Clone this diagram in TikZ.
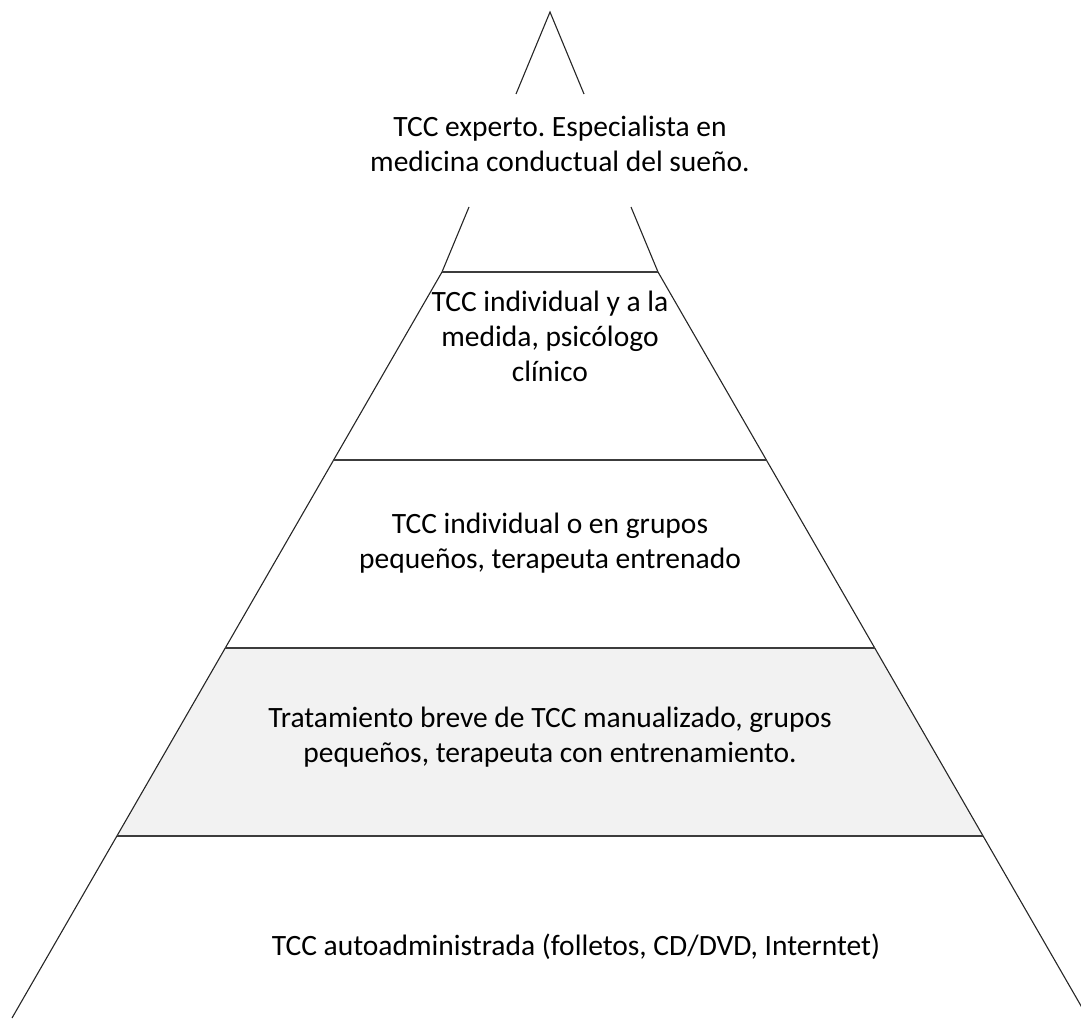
\documentclass[tikz,border=0pt]{standalone}
\usepackage{fontspec}
\setmainfont{Carlito}
\definecolor{bandgray}{HTML}{F2F2F2}
\definecolor{edge}{HTML}{262626}
\begin{document}
\begin{tikzpicture}[x=1pt,y=-1pt,
  side/.style={draw=edge,line width=1.1pt},
  tier/.style={draw=edge!90!white,line width=2.3pt},
  label/.style={align=center,font=\fontsize{29.5}{35}\selectfont\frenchspacing,inner sep=0pt,text=black}]
\useasboundingbox (0,0) rectangle (1081,1019);
\clip (0,0) rectangle (1081,1019);
% coordinates
\coordinate (apex) at (550,12);
\coordinate (tl1) at (516,94);
\coordinate (tr1) at (584,94);
\coordinate (tl2) at (469,207);
\coordinate (tr2) at (631,207);
\coordinate (l1) at (442,272);
\coordinate (r1) at (658,272);
\coordinate (l2) at (333,460);
\coordinate (r2) at (767,460);
\coordinate (l3) at (225,648);
\coordinate (r3) at (875,648);
\coordinate (l4) at (117,836);
\coordinate (r4) at (983,836);
\coordinate (l5) at (12,1018);
\coordinate (r5) at (1088,1018);
% gray band
\fill[bandgray] (l3) -- (r3) -- (r4) -- (l4) -- cycle;
% sides
\draw[side] (tl1) -- (apex) -- (tr1);
\draw[side] (tl2) -- (l1) -- (l5);
\draw[side] (tr2) -- (r1) -- (r5);
% tiers
\draw[tier] (l1) -- (r1);
\draw[tier] (l2) -- (r2);
\draw[tier] (l3) -- (r3);
\draw[tier] (l4) -- (r4);
% labels
\node[label] (t1) at (560,144) {TCC experto. Especialista en\\medicina conductual del sueño.};
\node[label] (t2) at (550,336) {TCC individual y a la\\medida, psicólogo\\clínico};
\node[label] (t3) at (550,543) {TCC individual o en grupos\\pequeños, terapeuta entrenado};
\node[label] (t4) at (550,737) {Tratamiento breve de TCC manualizado, grupos\\pequeños, terapeuta con entrenamiento.};
\node[label] (t5) at (576,947) {TCC autoadministrada (folletos, CD/DVD, Interntet)};
\end{tikzpicture}
\end{document}
